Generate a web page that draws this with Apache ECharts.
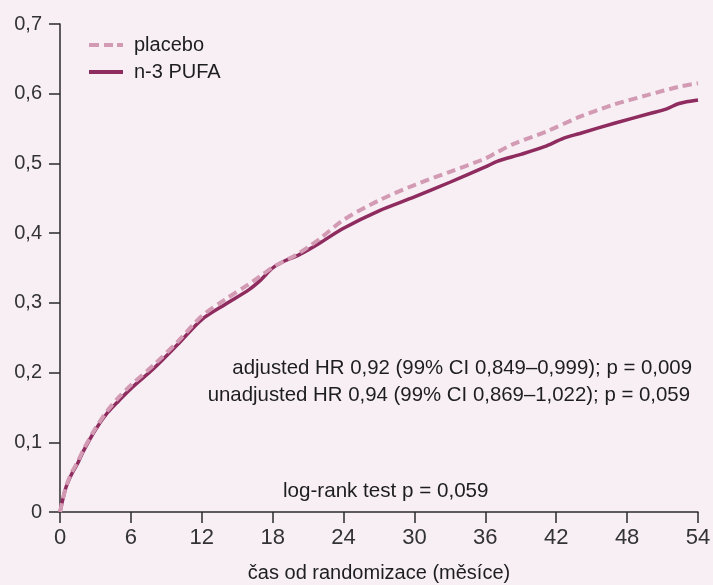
<!DOCTYPE html>
<html>
<head>
<meta charset="utf-8">
<script src="https://cdn.jsdelivr.net/npm/echarts@6/dist/echarts.min.js"></script>
<style>
html,body{margin:0;padding:0;background:#f7eff4;}
#c{width:713px;height:585px;}
</style>
</head>
<body>
<div id="c"></div>
<script>
// ---- data ----
var seriesNames = ['placebo', 'n-3 PUFA'];
var xTicks = [0, 6, 12, 18, 24, 30, 36, 42, 48, 54];
var yTicks = [0, 0.1, 0.2, 0.3, 0.4, 0.5, 0.6, 0.7];
var yTickLabels = ['0', '0,1', '0,2', '0,3', '0,4', '0,5', '0,6', '0,7'];

var placeboT = [0, 0.5, 1, 1.5, 2, 3, 4, 5, 6, 8, 10, 12, 14, 16, 17, 18, 19, 20, 21, 22, 24, 27, 30, 33, 36, 37, 38.4, 41.2, 44, 46.8, 49.7, 52.4, 54];
var placeboV = [0, 0.036, 0.057, 0.072, 0.090, 0.120, 0.145, 0.165, 0.182, 0.212, 0.245, 0.281, 0.305, 0.327, 0.339, 0.351, 0.360, 0.369, 0.380, 0.392, 0.419, 0.447, 0.469, 0.488, 0.507, 0.516, 0.528, 0.546, 0.567, 0.584, 0.598, 0.610, 0.615];

var pufaT = [0, 0.5, 1, 1.5, 2, 3, 4, 5, 6, 8, 10, 12, 14, 16, 17, 18, 19, 20, 21, 22, 24, 27, 30, 33, 36, 37, 39, 41, 42.6, 44, 47, 50, 51.3, 52.4, 54];
var pufaV = [0, 0.035, 0.055, 0.070, 0.088, 0.118, 0.142, 0.160, 0.177, 0.207, 0.241, 0.276, 0.298, 0.319, 0.333, 0.350, 0.360, 0.367, 0.376, 0.386, 0.407, 0.432, 0.452, 0.473, 0.495, 0.503, 0.513, 0.524, 0.536, 0.543, 0.558, 0.572, 0.578, 0.586, 0.591];

var annotations = [
  'adjusted HR 0,92 (99% CI 0,849–0,999); p = 0,009',
  'unadjusted HR 0,94 (99% CI 0,869–1,022); p = 0,059'
];
var logRankText = 'log-rank test p = 0,059';
var xAxisTitle = 'čas od randomizace (měsíce)';

function pairs(t, v) { return t.map(function (x, i) { return [x, v[i]]; }); }

var chart = echarts.init(document.getElementById('c'), null, {renderer: 'canvas'});
var font = 'Liberation Sans, Arial, sans-serif';
var axisCol = '#2b2b2b';
var txtCol = '#1e1e1e';
var placeboCol = '#d39ab4';
var pufaCol = '#8f2c5f';

chart.setOption({
  backgroundColor: '#f7eff4',
  animation: false,
  textStyle: {fontFamily: font},
  grid: {left: 60, right: 15, top: 24, bottom: 73, containLabel: false, outerBoundsMode: 'none'},
  legend: {
    orient: 'vertical',
    left: 89,
    top: 35,
    padding: 0,
    itemWidth: 34,
    itemHeight: 4,
    itemGap: 7,
    data: [
      {name: seriesNames[0], icon: 'path://M0,0h10v4h-10z M15,0h9v4h-9z M28,0h6v4h-6z', itemStyle: {color: placeboCol}},
      {name: seriesNames[1], icon: 'rect', itemStyle: {color: pufaCol}}
    ],
    textStyle: {fontSize: 20, color: txtCol, fontFamily: font, padding: [0, 0, 0, 6]}
  },
  xAxis: {
    type: 'value',
    min: 0, max: 54, interval: 6,
    splitLine: {show: false},
    axisLine: {lineStyle: {color: axisCol, width: 1.5}},
    axisTick: {length: 11, lineStyle: {color: axisCol, width: 1.5}},
    axisLabel: {
      fontSize: 22, color: '#333', margin: 15, fontFamily: font,
      formatter: function (v) { return xTicks.indexOf(v) >= 0 ? String(v) : ''; }
    },
    name: xAxisTitle,
    nameLocation: 'middle',
    nameGap: 51,
    nameTextStyle: {fontSize: 20, color: txtCol, fontFamily: font}
  },
  yAxis: {
    type: 'value',
    min: 0, max: 0.7, interval: 0.1,
    splitLine: {show: false},
    axisLine: {show: true, lineStyle: {color: axisCol, width: 1.5}},
    axisTick: {show: true, length: 11, lineStyle: {color: axisCol, width: 1.5}},
    axisLabel: {
      fontSize: 20, color: '#333', margin: 18, fontFamily: font,
      formatter: function (v) {
        var i = yTicks.findIndex(function (y) { return Math.abs(y - v) < 1e-6; });
        return i >= 0 ? yTickLabels[i] : '';
      }
    }
  },
  series: [
    {
      name: seriesNames[1],
      type: 'line',
      data: pairs(pufaT, pufaV),
      showSymbol: false,
      symbol: 'none',
      smooth: 0.3,
      z: 2,
      lineStyle: {color: pufaCol, width: 3.5},
      itemStyle: {color: pufaCol}
    },
    {
      name: seriesNames[0],
      type: 'line',
      data: pairs(placeboT, placeboV),
      showSymbol: false,
      symbol: 'none',
      smooth: 0.3,
      z: 3,
      lineStyle: {color: placeboCol, width: 4, type: [9, 5]},
      itemStyle: {color: placeboCol}
    }
  ],
  graphic: [
    {type: 'text', right: 21, top: 358, style: {text: annotations[0], font: '20.4px ' + font, fill: txtCol}},
    {type: 'text', right: 23, top: 385, style: {text: annotations[1], font: '20.4px ' + font, fill: txtCol}},
    {type: 'text', left: 283, top: 481, style: {text: logRankText, font: '20.6px ' + font, fill: txtCol}}
  ]
});
</script>
</body>
</html>
